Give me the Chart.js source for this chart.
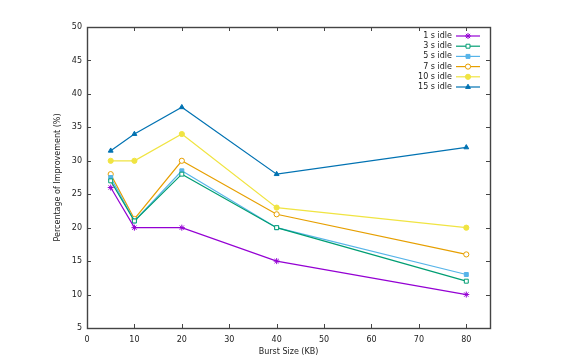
<!DOCTYPE html>
<html>
<head>
<meta charset="utf-8">
<script src="https://cdn.jsdelivr.net/npm/chart.js@4"></script>
<style>
  html, body { margin: 0; padding: 0; background: #fff; }
  #wrap { width: 561px; height: 360px; }
</style>
</head>
<body>
<div id="wrap"><canvas id="lineChart" width="561" height="360"></canvas></div>
<script>
// burst sizes on the x axis (KB)
const burstSizes = [5, 10, 20, 40, 80];

// percentage of improvement per idle time
const idle1s  = [26, 20, 20, 15, 10];
const idle3s  = [27, 21, 28, 20, 12];
const idle5s  = [27.5, 21, 28.5, 20, 13];
const idle7s  = [28, 21.3, 30, 22, 16];
const idle10s = [30, 30, 34, 23, 20];
const idle15s = [31.5, 34, 38, 28, 32];

const seriesLabels = ["1 s idle", "3 s idle", "5 s idle", "7 s idle", "10 s idle", "15 s idle"];
const xTicks = [0, 10, 20, 30, 40, 50, 60, 70, 80];
const yTicks = [5, 10, 15, 20, 25, 30, 35, 40, 45, 50];

const FONT = "'DejaVu Sans', sans-serif";

function pts(values) {
	return burstSizes.map((x, i) => ({ x: x, y: values[i] }));
}

const styles = [
	{ color: "#9400d3", pointStyle: "star",     fill: false, r: 3 },
	{ color: "#009e73", pointStyle: "rect",     fill: false, r: 2.8 },
	{ color: "#56b4e9", pointStyle: "rect",     fill: true,  r: 2.8 },
	{ color: "#e69f00", pointStyle: "circle",   fill: false, r: 2.6 },
	{ color: "#f0e442", pointStyle: "circle",   fill: true,  r: 2.6 },
	{ color: "#0072b2", pointStyle: "triangle", fill: true,  r: 2.8 }
];
const allValues = [idle1s, idle3s, idle5s, idle7s, idle10s, idle15s];

const datasets = allValues.map((vals, i) => ({
	label: seriesLabels[i],
	data: pts(vals),
	borderColor: styles[i].color,
	backgroundColor: styles[i].fill ? styles[i].color : "rgba(0,0,0,0)",
	pointBackgroundColor: styles[i].fill ? styles[i].color : "#ffffff",
	pointBorderColor: styles[i].color,
	pointStyle: styles[i].pointStyle,
	pointRadius: styles[i].r,
	pointBorderWidth: 1,
	borderWidth: 1.2,
	tension: 0
}));

// frame with inward ticks on all four sides, gnuplot style
const framePlugin = {
	id: "frame",
	afterDatasetsDraw(chart) {
		const { ctx, chartArea: a, scales } = chart;
		ctx.save();
		ctx.strokeStyle = "#444";
		ctx.lineWidth = 1;
		ctx.beginPath();
		xTicks.forEach(v => {
			const px = Math.round(scales.x.getPixelForValue(v)) + 0.5;
			ctx.moveTo(px, a.bottom); ctx.lineTo(px, a.bottom - 4);
			ctx.moveTo(px, a.top); ctx.lineTo(px, a.top + 4);
		});
		yTicks.forEach(v => {
			const py = Math.round(scales.y.getPixelForValue(v)) + 0.5;
			ctx.moveTo(a.left, py); ctx.lineTo(a.left + 4, py);
			ctx.moveTo(a.right, py); ctx.lineTo(a.right - 4, py);
		});
		ctx.stroke();
		ctx.lineWidth = 1.4;
		ctx.strokeRect(Math.round(a.left) + 0.5, Math.round(a.top) + 0.5,
			Math.round(a.right - a.left), Math.round(a.bottom - a.top));
		ctx.restore();
	}
};

// key in the top right corner: text first, then the line sample
const keyPlugin = {
	id: "key",
	afterDatasetsDraw(chart) {
		const { ctx, chartArea: a } = chart;
		const textRight = a.right - 38;
		const lineStart = a.right - 34;
		const lineEnd = a.right - 10;
		ctx.save();
		ctx.font = "8px " + FONT;
		ctx.textAlign = "right";
		ctx.textBaseline = "middle";
		chart.data.datasets.forEach((ds, i) => {
			const y = a.top + 9 + i * 10.2;
			ctx.fillStyle = "#222";
			ctx.fillText(ds.label, textRight, y);
			ctx.strokeStyle = ds.borderColor;
			ctx.lineWidth = 1.2;
			ctx.beginPath();
			ctx.moveTo(lineStart, y);
			ctx.lineTo(lineEnd, y);
			ctx.stroke();
			ctx.fillStyle = ds.pointBackgroundColor;
			ctx.strokeStyle = ds.pointBorderColor;
			ctx.lineWidth = 1;
			Chart.helpers.drawPoint(ctx, {
				pointStyle: ds.pointStyle,
				radius: ds.pointRadius,
				rotation: 0,
				borderWidth: 1
			}, (lineStart + lineEnd) / 2, y);
		});
		ctx.restore();
	}
};

new Chart(document.querySelector("#lineChart"), {
	type: "line",
	data: { datasets: datasets },
	plugins: [framePlugin, keyPlugin],
	options: {
		responsive: false,
		animation: false,
		layout: { padding: { left: 0, top: 27, right: 71, bottom: 0 } },
		plugins: {
			legend: { display: false },
			tooltip: { enabled: false }
		},
		scales: {
			x: {
				type: "linear",
				min: 0,
				max: 85,
				afterBuildTicks: s => { s.ticks = xTicks.map(v => ({ value: v })); },
				afterFit: s => { s.height = 32; },
				grid: { display: false, drawTicks: false },
				border: { display: false },
				ticks: { color: "#222", font: { family: FONT, size: 8 }, padding: 7, maxRotation: 0 },
				title: {
					display: true,
					text: "Burst Size (KB)",
					color: "#222",
					font: { family: FONT, size: 8 },
					padding: { top: 0, bottom: 3 }
				}
			},
			y: {
				min: 5,
				max: 50,
				afterBuildTicks: s => { s.ticks = yTicks.map(v => ({ value: v })); },
				afterFit: s => { s.width = 87; },
				grid: { display: false, drawTicks: false },
				border: { display: false },
				ticks: { color: "#222", font: { family: FONT, size: 8 }, padding: 5 },
				title: {
					display: true,
					text: "Percentage of Improvement (%)",
					color: "#222",
					font: { family: FONT, size: 8 },
					padding: { top: 53, bottom: 0 }
				}
			}
		}
	}
});
</script>
</body>
</html>
